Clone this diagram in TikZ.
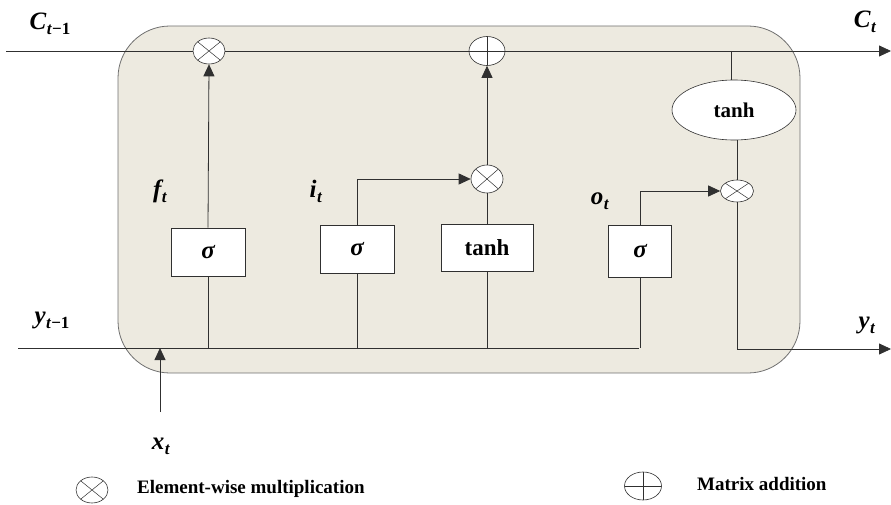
\documentclass[tikz,border=0pt]{standalone}
\usepackage{fontspec}
\setmainfont{Liberation Serif}
\usetikzlibrary{shapes.geometric,arrows.meta}
\definecolor{cellfill}{HTML}{EDEAE0}
\definecolor{celledge}{HTML}{707070}
\definecolor{wire}{HTML}{303030}
% bold italic variable with a lowered bold subscript
\newcommand{\lstm}[2]{{\fontsize{25}{27}\selectfont\bfseries\itshape #1}\kern0.5pt\raisebox{-5pt}{\fontsize{17}{19}\selectfont\bfseries #2}}
\tikzset{
  wireline/.style={draw=wire, line width=0.8pt},
  arr/.style={wireline, -{Triangle[length=12pt,width=11pt]}},
  gatebox/.style={draw=wire, fill=white, rectangle, inner sep=0pt, line width=0.6pt,
                  font=\fontsize{25}{27}\selectfont\bfseries\itshape},
  tanhbox/.style={gatebox, font=\fontsize{23}{25}\selectfont\bfseries},
  opnode/.style={draw=wire, fill=white, ellipse, inner sep=0pt, line width=0.6pt},
  mult/.style={opnode, path picture={
      \draw[wire, line width=0.5pt]
        (path picture bounding box.north west) -- (path picture bounding box.south east)
        (path picture bounding box.north east) -- (path picture bounding box.south west);}},
  plus/.style={opnode, path picture={
      \draw[wire, line width=0.5pt]
        (path picture bounding box.north) -- (path picture bounding box.south)
        (path picture bounding box.west) -- (path picture bounding box.east);}},
  varlabel/.style={inner sep=0pt},
  legendtext/.style={font=\fontsize{19}{21}\selectfont\bfseries, anchor=west, inner sep=0pt}
}
\begin{document}
\begin{tikzpicture}[x=1pt,y=-1pt]
  \useasboundingbox (0,0) rectangle (891,505);
  % cell body
  \draw[celledge, fill=cellfill, line width=0.8pt, rounded corners=52pt]
    (118,26) rectangle (800,373);

  % operators on the cell state
  \node[mult, minimum width=32pt, minimum height=26pt] (mf) at (209,51) {};
  \node[plus, minimum width=36pt, minimum height=29pt] (pa) at (487,51) {};
  \node[mult, minimum width=32pt, minimum height=28pt] (mi) at (487,179) {};
  \node[mult, minimum width=33pt, minimum height=22pt] (mo) at (737,191) {};
  \node[opnode, minimum width=124pt, minimum height=60pt,
        font=\fontsize{21}{23}\selectfont\bfseries] (th) at (734,110) {tanh};

  % gates
  \node[gatebox, minimum width=74pt, minimum height=48pt] (gf) at (208,252) {σ};
  \node[gatebox, minimum width=74pt, minimum height=48pt] (gi) at (357,249) {σ};
  \node[tanhbox, minimum width=92pt, minimum height=47pt] (gc) at (487,248) {tanh};
  \node[gatebox, minimum width=63pt, minimum height=52pt] (go) at (640,251) {σ};

  % end points of the through lines
  \coordinate (cin) at (6,51);
  \coordinate (cout) at (891,51);
  \coordinate (ctap) at (731,51);
  \coordinate (yin) at (18,348);
  \coordinate (ybusend) at (639,348);
  \coordinate (yout) at (891,349);
  \coordinate (xin) at (160,412);
  \coordinate (xjoin) at (160,348);

  % cell state
  \draw[wireline] (cin) -- (mf);
  \draw[wireline] (mf) -- (pa);
  \draw[arr] (pa) -- (cout);
  \draw[wireline] (ctap) -- (ctap |- th.north);
  \draw[wireline] (mo.north |- th.south) -- (mo.north);

  % hidden state bus and gate inputs
  \draw[wireline] (yin) -- (ybusend);
  \draw[arr] (xin) -- (xjoin);
  \draw[wireline] (gf.south) -- (gf.south |- yin);
  \draw[wireline] (gi.south) -- (gi.south |- yin);
  \draw[wireline] (gc.south) -- (gc.south |- yin);
  \draw[wireline] (go.south) -- (go.south |- yin);

  % gate outputs
  \draw[arr] (gf.north) -- (mf.south);
  \draw[arr] (gi.north) |- (mi.west);
  \draw[wireline] (gc.north) -- (mi.south);
  \draw[arr] (mi.north) -- (pa.south);
  \draw[arr] (go.north) |- (mo.west);
  \draw[arr] (mo.south) |- (yout);

  % labels
  \node[varlabel] (lc0) at (50,24) {\lstm{C}{\textit{t}−1}};
  \node[varlabel] (lc1) at (865,22) {\lstm{C}{\textit{t}}};
  \node[varlabel] (lf) at (160,191) {\lstm{f}{\textit{t}}};
  \node[varlabel] (li) at (316,191) {\lstm{i}{\textit{t}}};
  \node[varlabel] (lo) at (600,201) {\lstm{o}{\textit{t}}};
  \node[varlabel] (ly0) at (52,320) {\lstm{y}{\textit{t}−1}};
  \node[varlabel] (ly1) at (867,325) {\lstm{y}{\textit{t}}};
  \node[varlabel] (lx) at (161,446) {\lstm{x}{\textit{t}}};

  % legend
  \node[mult, minimum width=32pt, minimum height=26pt] (legm) at (92,490) {};
  \node[legendtext] (legmt) at (137,489) {Element-wise multiplication};
  \node[plus, minimum width=37pt, minimum height=28pt] (legp) at (643,486) {};
  \node[legendtext] (legpt) at (697,484) {Matrix addition};
\end{tikzpicture}
\end{document}
